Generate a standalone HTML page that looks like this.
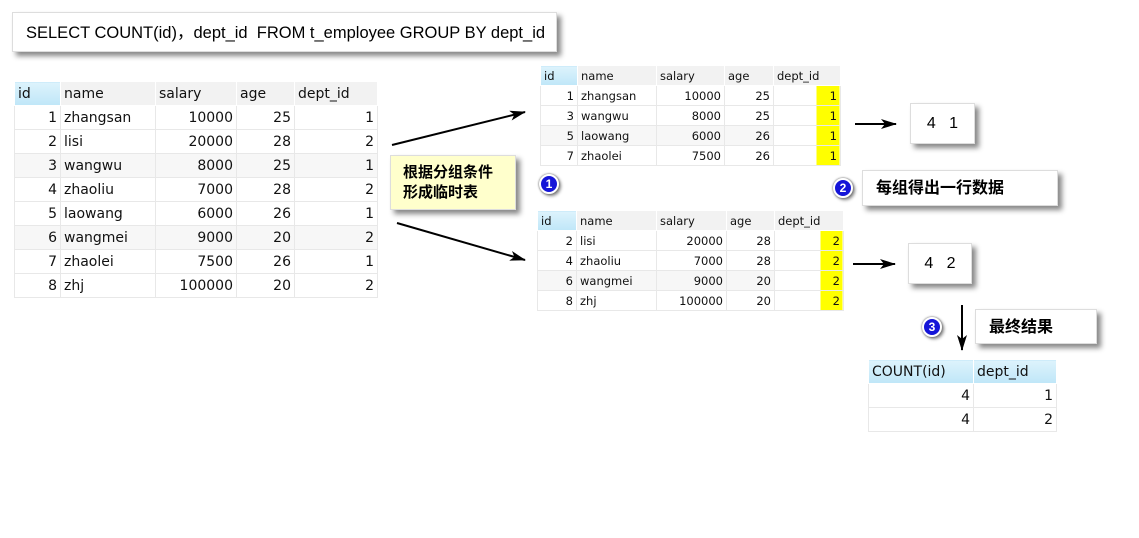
<!DOCTYPE html><html><head><meta charset="utf-8"><style>
body{margin:0;width:1139px;height:538px;background:#fff;position:relative;overflow:hidden;font-family:"Liberation Sans","Noto Sans CJK SC",sans-serif;}
.a{position:absolute;}
table{position:absolute;border-collapse:collapse;font-family:"DejaVu Sans","Liberation Sans",sans-serif;color:#111;}
td{border:1px solid #e8e8e8;padding:0 3px;white-space:nowrap;overflow:hidden;}
tr.h td{background:#f2f2f2;border-color:#fff;}
tr.h td:first-child{background:linear-gradient(#ddf3fc,#bfe6f8);}
td.r{text-align:right;}
tr.z td{background:#f7f7f7;}
.box{position:absolute;background:#fff;box-shadow:4px 4px 5px #888;border:1px solid #ddd;}
.c{position:absolute;width:16px;height:16px;border-radius:50%;background:#1515d8;border:2px solid #fff;box-shadow:0 0 2px #555,2px 2px 3px #888;color:#fff;font:bold 12px "Liberation Sans";text-align:center;line-height:16px;}
td.y1{background:linear-gradient(to right,transparent 42px,#ff0 42px,#ff0 65px,transparent 65px) !important;}
td.y2{background:linear-gradient(to right,transparent 45px,#ff0 45px,#ff0 67px,transparent 67px) !important;}
</style></head><body>
<div class="box" style="left:12px;top:12px;width:545px;height:40px;font-size:16.5px;line-height:40px;padding-left:13px;box-sizing:border-box;">SELECT COUNT(id)，dept_id&nbsp; FROM t_employee GROUP BY dept_id</div>

<table style="left:14px;top:81px;font-size:14px;">
<colgroup><col style="width:46px"><col style="width:95px"><col style="width:81px"><col style="width:58px"><col style="width:83px"></colgroup>
<tr class="h" style="height:24px"><td>id</td><td>name</td><td>salary</td><td>age</td><td>dept_id</td></tr>
<tr style="height:24px"><td class="r">1</td><td>zhangsan</td><td class="r">10000</td><td class="r">25</td><td class="r">1</td></tr>
<tr style="height:24px"><td class="r">2</td><td>lisi</td><td class="r">20000</td><td class="r">28</td><td class="r">2</td></tr>
<tr class="z" style="height:24px"><td class="r">3</td><td>wangwu</td><td class="r">8000</td><td class="r">25</td><td class="r">1</td></tr>
<tr style="height:24px"><td class="r">4</td><td>zhaoliu</td><td class="r">7000</td><td class="r">28</td><td class="r">2</td></tr>
<tr style="height:24px"><td class="r">5</td><td>laowang</td><td class="r">6000</td><td class="r">26</td><td class="r">1</td></tr>
<tr class="z" style="height:24px"><td class="r">6</td><td>wangmei</td><td class="r">9000</td><td class="r">20</td><td class="r">2</td></tr>
<tr style="height:24px"><td class="r">7</td><td>zhaolei</td><td class="r">7500</td><td class="r">26</td><td class="r">1</td></tr>
<tr style="height:24px"><td class="r">8</td><td>zhj</td><td class="r">100000</td><td class="r">20</td><td class="r">2</td></tr>
</table>

<table style="left:540px;top:65px;font-size:11.5px;">
<colgroup><col style="width:37px"><col style="width:79px"><col style="width:68px"><col style="width:49px"><col style="width:67px"></colgroup>
<tr class="h" style="height:20px"><td>id</td><td>name</td><td>salary</td><td>age</td><td>dept_id</td></tr>
<tr style="height:20px"><td class="r">1</td><td>zhangsan</td><td class="r">10000</td><td class="r">25</td><td class="r y1">1</td></tr>
<tr style="height:20px"><td class="r">3</td><td>wangwu</td><td class="r">8000</td><td class="r">25</td><td class="r y1">1</td></tr>
<tr class="z" style="height:20px"><td class="r">5</td><td>laowang</td><td class="r">6000</td><td class="r">26</td><td class="r y1">1</td></tr>
<tr style="height:20px"><td class="r">7</td><td>zhaolei</td><td class="r">7500</td><td class="r">26</td><td class="r y1">1</td></tr>
</table>

<table style="left:537px;top:210px;font-size:11.5px;">
<colgroup><col style="width:39px"><col style="width:80px"><col style="width:70px"><col style="width:48px"><col style="width:69px"></colgroup>
<tr class="h" style="height:20px"><td>id</td><td>name</td><td>salary</td><td>age</td><td>dept_id</td></tr>
<tr style="height:20px"><td class="r">2</td><td>lisi</td><td class="r">20000</td><td class="r">28</td><td class="r y2">2</td></tr>
<tr style="height:20px"><td class="r">4</td><td>zhaoliu</td><td class="r">7000</td><td class="r">28</td><td class="r y2">2</td></tr>
<tr class="z" style="height:20px"><td class="r">6</td><td>wangmei</td><td class="r">9000</td><td class="r">20</td><td class="r y2">2</td></tr>
<tr style="height:20px"><td class="r">8</td><td>zhj</td><td class="r">100000</td><td class="r">20</td><td class="r y2">2</td></tr>
</table>

<table style="left:868px;top:359px;font-size:14px;">
<colgroup><col style="width:105px"><col style="width:83px"></colgroup>
<tr class="h" style="height:24px"><td style="background:linear-gradient(#ddf3fc,#bfe6f8)">COUNT(id)</td><td style="background:linear-gradient(#ddf3fc,#bfe6f8)">dept_id</td></tr>
<tr style="height:24px"><td class="r">4</td><td class="r">1</td></tr>
<tr style="height:24px"><td class="r">4</td><td class="r">2</td></tr>
</table>

<div class="box" style="left:390px;top:155px;width:126px;height:55px;background:#ffffcc;font-weight:bold;font-size:15px;line-height:20px;padding:7px 0 0 12px;box-sizing:border-box;">根据分组条件<br>形成临时表</div>
<div class="box" style="left:910px;top:103px;width:63px;height:39px;font-size:16px;line-height:39px;text-align:center;">4&nbsp;&nbsp; 1</div>
<div class="box" style="left:908px;top:243px;width:62px;height:39px;font-size:16px;line-height:39px;text-align:center;">4&nbsp;&nbsp; 2</div>
<div class="box" style="left:862px;top:170px;width:196px;height:36px;font-size:16px;font-weight:bold;line-height:36px;padding-left:13px;box-sizing:border-box;">每组得出一行数据</div>
<div class="box" style="left:975px;top:309px;width:122px;height:35px;font-size:16px;font-weight:bold;line-height:35px;padding-left:13px;box-sizing:border-box;">最终结果</div>

<div class="c" style="left:539px;top:174px;">1</div>
<div class="c" style="left:833px;top:178px;">2</div>
<div class="c" style="left:922px;top:317px;">3</div>

<svg class="a" style="left:0;top:0" width="1139" height="538">
<defs>
<marker id="m2" markerWidth="16" markerHeight="10" refX="15" refY="5" orient="auto" markerUnits="userSpaceOnUse"><path d="M0,0 L16,5 L0,10 L4,5z" fill="#000"/></marker></defs>
<g stroke="#000" stroke-width="2" fill="none">
<line x1="392" y1="145" x2="525" y2="112" marker-end="url(#m2)"/>
<line x1="397" y1="223" x2="525" y2="260" marker-end="url(#m2)"/>
<line x1="855" y1="124" x2="896" y2="124" marker-end="url(#m2)"/>
<line x1="853" y1="264" x2="895" y2="264" marker-end="url(#m2)"/>
<line x1="962" y1="305" x2="962" y2="350" marker-end="url(#m2)"/>
</g></svg>
</body></html>
